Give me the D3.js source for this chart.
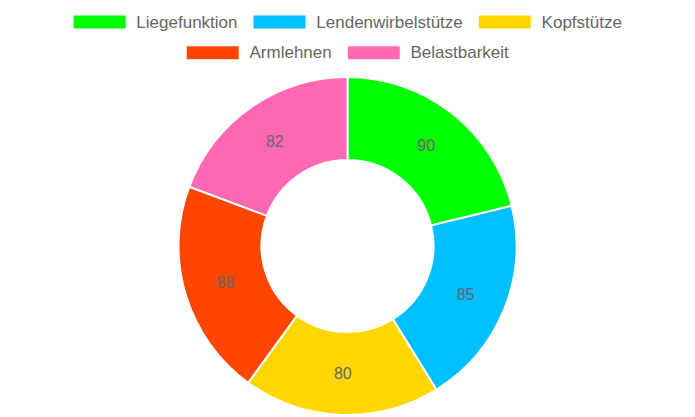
<!DOCTYPE html>
<html>
<head>
<meta charset="utf-8">
<script src="https://cdn.jsdelivr.net/npm/d3@7"></script>
<style>
  html, body { margin: 0; padding: 0; background: #fff; }
  text { font-family: "Liberation Sans", Arial, sans-serif; }
</style>
</head>
<body>
<script>
// data
const categories = ["Liegefunktion", "Lendenwirbelstütze", "Kopfstütze", "Armlehnen", "Belastbarkeit"];
const values = [90, 85, 80, 88, 82];
const colors = ["#00ff00", "#00bfff", "#ffd700", "#ff4500", "#ff69b4"];
const legendRows = [[0, 1, 2], [3, 4]];

// layout
const W = 695, H = 417;
const center = { x: 347.5, y: 246 };
const outerR = 169, innerR = 86;
const legend = { cx: 347.5, rowY: [22, 52.8], boxW: 53, boxH: 14, textGap: 10.3, itemGap: 15.5, fontSize: 17 };

const svg = d3.select("body").append("svg")
  .attr("width", W)
  .attr("height", H);

// doughnut
const pie = d3.pie().sort(null).value(d => d);
const arc = d3.arc().innerRadius(innerR).outerRadius(outerR);
const labelArc = d3.arc().innerRadius((innerR + outerR) / 2).outerRadius((innerR + outerR) / 2);
const color = d3.scaleOrdinal().domain(categories).range(colors);

const g = svg.append("g").attr("transform", `translate(${center.x},${center.y})`);
const arcs = pie(values);

g.selectAll("path")
  .data(arcs)
  .enter().append("path")
  .attr("d", arc)
  .attr("fill", (d, i) => color(categories[i]))
  .attr("stroke", "#fff")
  .attr("stroke-width", 2);

g.selectAll("text.val")
  .data(arcs)
  .enter().append("text")
  .attr("class", "val")
  .attr("transform", d => `translate(${labelArc.centroid(d)})`)
  .attr("text-anchor", "middle")
  .attr("dominant-baseline", "central")
  .attr("font-size", 16)
  .attr("fill", "#666")
  .text(d => d.data);

// legend
legendRows.forEach((row, r) => {
  const rowG = svg.append("g");
  let x = 0;
  row.forEach(i => {
    const item = rowG.append("g").attr("transform", `translate(${x},0)`);
    item.append("rect")
      .attr("x", 0)
      .attr("y", legend.rowY[r] - legend.boxH / 2)
      .attr("width", legend.boxW)
      .attr("height", legend.boxH)
      .attr("fill", colors[i])
      .attr("stroke", "#fff")
      .attr("stroke-width", 1);
    const t = item.append("text")
      .attr("x", legend.boxW + legend.textGap)
      .attr("y", legend.rowY[r])
      .attr("dominant-baseline", "central")
      .attr("font-size", legend.fontSize)
      .attr("fill", "#666")
      .text(categories[i]);
    x += legend.boxW + legend.textGap + t.node().getComputedTextLength() + legend.itemGap;
  });
  const rowW = x - legend.itemGap;
  rowG.attr("transform", `translate(${legend.cx - rowW / 2},0)`);
});
</script>
</body>
</html>
